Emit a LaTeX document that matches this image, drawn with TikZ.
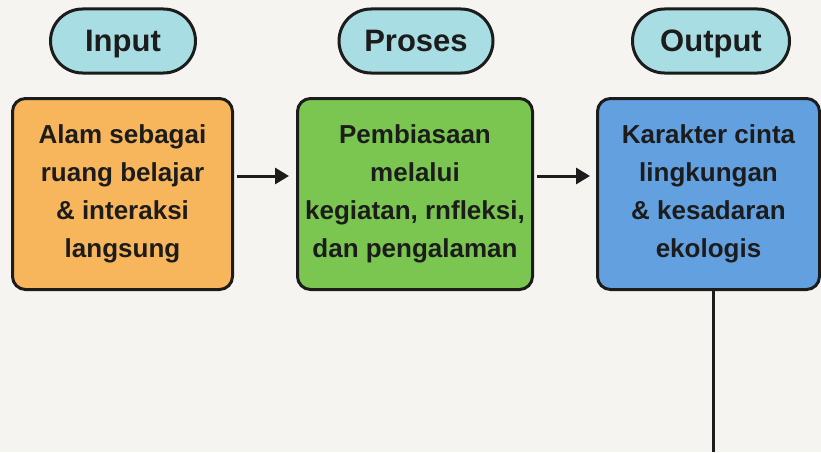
\documentclass[tikz,border=0pt]{standalone}
\usepackage{fontspec}
\setmainfont{Liberation Sans}
\usetikzlibrary{arrows.meta}
\definecolor{bgpaper}{RGB}{245,244,240}
\definecolor{pillcyan}{RGB}{168,222,227}
\definecolor{boxorange}{RGB}{247,181,92}
\definecolor{boxgreen}{RGB}{122,198,80}
\definecolor{boxblue}{RGB}{99,160,224}
\definecolor{inkdark}{RGB}{28,28,28}

\begin{document}
\begin{tikzpicture}[x=1pt,y=-1pt,>={Triangle[length=14pt,width=16pt]},
  pill/.style={draw=inkdark, line width=3pt, fill=pillcyan, rounded corners=32pt,
    minimum height=64pt, inner sep=0pt, text=inkdark, text height=22pt, text depth=0pt,
    font=\bfseries\fontsize{31}{36}\selectfont},
  stagebox/.style={draw=inkdark, line width=3pt, rounded corners=13pt,
    minimum height=191pt, inner sep=0pt, align=center, text=inkdark,
    font=\bfseries\fontsize{26}{38}\selectfont},
  flow/.style={->, line width=3pt, draw=inkdark}]

  % Paper
  \useasboundingbox (0,0) rectangle (821,452);
  \fill[bgpaper] (0,0) rectangle (821,452);

  % Headers
  \node[pill, minimum width=145pt] (input)  at (123,41) {Input};
  \node[pill, minimum width=154pt] (proses) at (416,41) {Proses};
  \node[pill, minimum width=157pt] (output) at (711,41) {Output};

  % Stages
  \node[stagebox, fill=boxorange, minimum width=220pt] (alam) at (122.5,194)
    {Alam sebagai\\ruang belajar\\\& interaksi\\langsung};
  \node[stagebox, fill=boxgreen, minimum width=235pt] (pembiasaan) at (415,194)
    {Pembiasaan\\melalui\\kegiatan, rnfleksi,\\dan pengalaman};
  \node[stagebox, fill=boxblue, minimum width=222pt] (karakter) at (708.5,194)
    {Karakter cinta\\lingkungan\\\& kesadaran\\ekologis};

  % Flow
  \draw[flow, shorten <=3pt, shorten >=7pt] ([yshift=18pt]alam.east) -- ([yshift=18pt]pembiasaan.west);
  \draw[flow, shorten <=3pt, shorten >=6pt] ([yshift=18pt]pembiasaan.east) -- ([yshift=18pt]karakter.west);

  \coordinate (down) at (713,452);
  \draw[line width=3pt, inkdark] (karakter.south -| down) -- (down);
\end{tikzpicture}
\end{document}
